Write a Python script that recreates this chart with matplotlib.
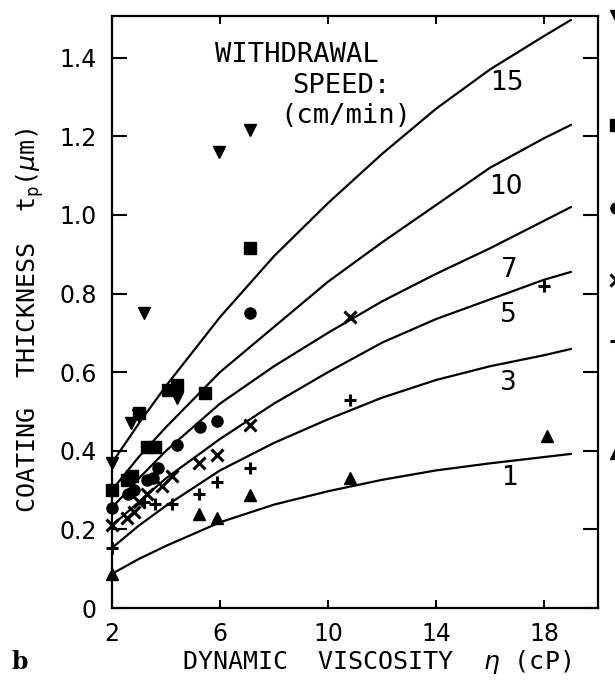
import matplotlib
matplotlib.use("Agg")
import matplotlib.pyplot as plt

plt.rcParams['font.family'] = ['DejaVu Sans']
plt.rcParams['mathtext.fontset'] = 'dejavusans'

# Theoretical curves
eta_grid = [2, 3, 4, 6, 8, 10, 12, 14, 16, 18, 19]
curve_15 = [0.369, 0.47, 0.565, 0.74, 0.895, 1.03, 1.155, 1.27, 1.37, 1.455, 1.496]
curve_10 = [0.30, 0.385, 0.46, 0.60, 0.715, 0.83, 0.93, 1.025, 1.12, 1.195, 1.229]
curve_7 = [0.255, 0.33, 0.40, 0.52, 0.615, 0.70, 0.78, 0.85, 0.915, 0.985, 1.02]
curve_5 = [0.21, 0.27, 0.33, 0.43, 0.52, 0.60, 0.675, 0.735, 0.785, 0.835, 0.855]
curve_3 = [0.153, 0.21, 0.26, 0.35, 0.42, 0.48, 0.535, 0.58, 0.615, 0.643, 0.659]
curve_1 = [0.087, 0.125, 0.158, 0.218, 0.263, 0.297, 0.326, 0.35, 0.368, 0.384, 0.392]
speed_labels = ["15", "10", "7", "5", "3", "1"]
label_eta = [16.63, 16.6, 16.7, 16.67, 16.67, 16.74]
label_t = [1.336, 1.07, 0.86, 0.746, 0.572, 0.331]

# Measured points
eta_15 = [2.7, 2.95, 3.2, 4.4, 5.95, 7.1]
t_15 = [0.47, 0.49, 0.75, 0.535, 1.16, 1.215]
eta_10 = [2.55, 2.75, 3.0, 3.3, 3.6, 4.07, 4.41, 5.44, 7.1]
t_10 = [0.325, 0.335, 0.495, 0.41, 0.41, 0.555, 0.567, 0.547, 0.915]
eta_7 = [2.6, 2.8, 3.3, 3.5, 3.7, 4.4, 5.26, 5.9, 7.1]
t_7 = [0.29, 0.30, 0.325, 0.33, 0.355, 0.415, 0.46, 0.475, 0.75]
eta_5 = [2.55, 2.8, 3.0, 3.3, 3.85, 4.22, 5.22, 5.9, 7.1, 10.8]
t_5 = [0.23, 0.245, 0.27, 0.29, 0.31, 0.335, 0.37, 0.39, 0.465, 0.74]
eta_3 = [3.2, 3.6, 4.22, 5.22, 5.9, 7.1, 10.8, 18.0]
t_3 = [0.27, 0.265, 0.265, 0.29, 0.32, 0.355, 0.53, 0.82]
eta_1 = [5.22, 5.9, 7.1, 10.8, 18.1]
t_1 = [0.24, 0.228, 0.288, 0.33, 0.438]

# Curve-identifying symbols beyond the right edge
right_marker_t = [1.506, 1.229, 1.018, 0.835, 0.68, 0.394]

markers = ['v', 's', 'o', 'x', '+', '^']
curves = [curve_15, curve_10, curve_7, curve_5, curve_3, curve_1]
pts = [(eta_15, t_15), (eta_10, t_10), (eta_7, t_7), (eta_5, t_5), (eta_3, t_3), (eta_1, t_1)]

W, H = 615, 686
fig = plt.figure(figsize=(W / 100, H / 100), dpi=100)
ax = fig.add_axes([112 / W, (H - 608) / H, (598 - 112) / W, (608 - 16) / H])

for c in curves:
    ax.plot(eta_grid, c, color='black', lw=1.6, solid_capstyle='round')

def mkw(m):
    return dict(ms=8.5, mew=2.2) if m in ('x', '+') else dict(ms=8)

for m, (ex, ty) in zip(markers, pts):
    ax.plot(ex, ty, ls='none', marker=m, color='black', **mkw(m))

for m, c, ty in zip(markers, curves, right_marker_t):
    ax.plot([eta_grid[0]], [c[0]], ls='none', marker=m, color='black', clip_on=False, **mkw(m))
    ax.plot([20.65], [ty], ls='none', marker=m, color='black', clip_on=False, **mkw(m))

for s, x, y in zip(speed_labels, label_eta, label_t):
    ax.text(x, y, s, fontsize=19, ha='center', va='center')

mono = 'DejaVu Sans Mono'
fig.text(215 / W, 1 - 55 / H, "WITHDRAWAL", fontsize=19.5, family=mono, ha='left', va='center')
fig.text(292 / W, 1 - 86 / H, "SPEED:", fontsize=19.5, family=mono, ha='left', va='center')
fig.text(280 / W, 1 - 116 / H, "(cm/min)", fontsize=19.5, family=mono, ha='left', va='center')

ax.set_xlim(2, 20)
ax.set_ylim(0, 1.506)
ax.set_xticks([2, 6, 10, 14, 18])
ax.set_yticks([0, 0.2, 0.4, 0.6, 0.8, 1.0, 1.2, 1.4])
ax.set_yticklabels(["0", "0.2", "0.4", "0.6", "0.8", "1.0", "1.2", "1.4"])
ax.tick_params(axis='both', direction='in', labelsize=17, width=1.5)
ax.tick_params(axis='x', length=6, pad=10, top=True)
ax.tick_params(axis='y', length=11, pad=11, right=True)
for sp in ax.spines.values():
    sp.set_linewidth(1.6)

fig.text(376 / W, 1 - 662 / H, "DYNAMIC  VISCOSITY  $\\eta$ (cP)", fontsize=18, family=mono,
         ha='center', va='center')
fig.text(30 / W, 1 - 320 / H, "COATING  THICKNESS  t$_\\mathregular{p}$($\\mu$m)", fontsize=18,
         family=mono, rotation=90, ha='center', va='center')
fig.text(12 / W, 1 - 662 / H, "b", fontsize=17, fontfamily='DejaVu Serif', fontweight='bold',
         ha='left', va='center')

fig.savefig("out.png", dpi=100)
